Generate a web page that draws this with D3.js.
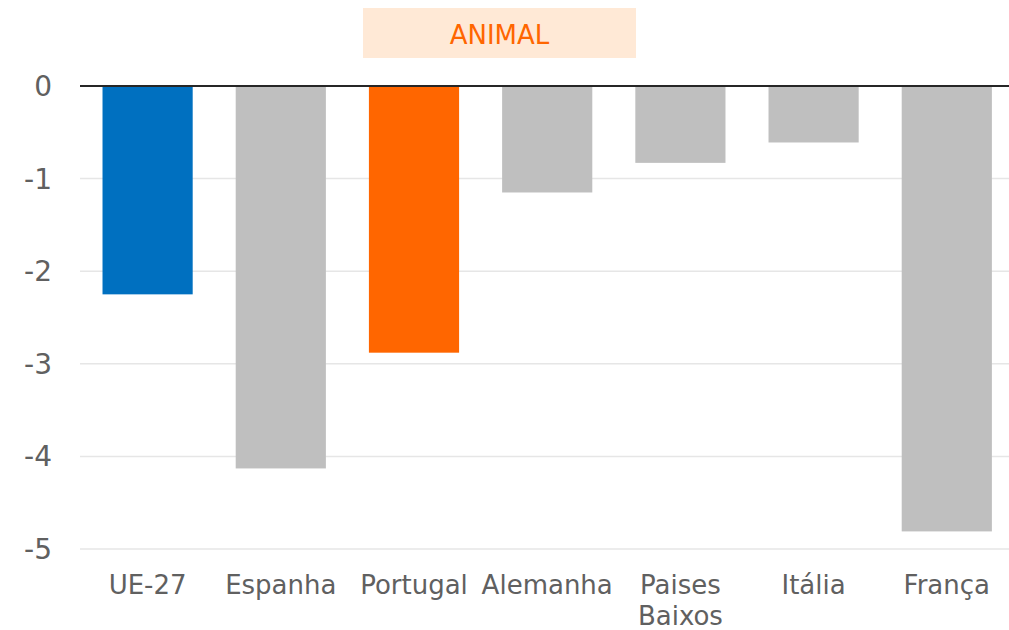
<!DOCTYPE html>
<html>
<head>
<meta charset="utf-8">
<script src="https://cdn.jsdelivr.net/npm/d3@7"></script>
<style>
  body { margin: 0; background: #fff; }
  svg { display: block; font-family: "DejaVu Sans", Verdana, sans-serif; }
</style>
</head>
<body>
<svg width="1009" height="630"></svg>
<script>
// Data
var countries = ['UE-27', 'Espanha', 'Portugal', 'Alemanha', 'Paises Baixos', 'Itália', 'França'];
var values = [-2.25, -4.13, -2.88, -1.15, -0.83, -0.61, -4.81];
var barColors = ['#0070c0', '#bfbfbf', '#ff6600', '#bfbfbf', '#bfbfbf', '#bfbfbf', '#bfbfbf'];
var yTicks = [0, -1, -2, -3, -4, -5];
var title = 'ANIMAL';

var margin = {top: 86, left: 81};
var width = 932.4;
var height = 463;

var svg = d3.select('svg');
var chart = svg.append('g')
  .attr('transform', 'translate(' + margin.left + ',' + margin.top + ')');

var x = d3.scaleBand().domain(countries).range([0, width])
  .paddingInner(0.323).paddingOuter(0.1615);
var y = d3.scaleLinear().domain([0, -5]).range([0, height]);

// Gridlines
chart.selectAll('.grid')
  .data(yTicks.filter(d => d !== 0)).enter()
  .append('line')
  .attr('x1', -1).attr('x2', width)
  .attr('y1', d => y(d)).attr('y2', d => y(d))
  .attr('stroke', '#e6e6e6')
  .attr('stroke-width', 1.5);

// Bars
chart.selectAll('.bar')
  .data(countries).enter()
  .append('rect')
  .attr('x', d => x(d))
  .attr('width', x.bandwidth())
  .attr('y', y(0))
  .attr('height', (d, i) => y(values[i]) - y(0))
  .attr('fill', (d, i) => barColors[i]);

// Zero line
chart.append('line')
  .attr('x1', -1).attr('x2', width)
  .attr('y1', y(0)).attr('y2', y(0))
  .attr('stroke', '#262626')
  .attr('stroke-width', 2);

// Y tick labels
chart.selectAll('.ytick')
  .data(yTicks).enter()
  .append('text')
  .attr('x', -29)
  .attr('y', d => y(d))
  .attr('dy', '0.36em')
  .attr('text-anchor', 'end')
  .attr('fill', '#606060')
  .attr('font-size', 28)
  .text(d => d === 0 ? '0' : String(d).replace('\u2212', '-'));

// X labels (wrap two-word label)
var xl = chart.selectAll('.xlab')
  .data(countries).enter()
  .append('text')
  .attr('text-anchor', 'middle')
  .attr('fill', '#606060')
  .attr('font-size', 26)
  .attr('transform', d => 'translate(' + (x(d) + x.bandwidth() / 2) + ',' + (height + 45) + ')');
xl.each(function(d) {
  var words = d === 'Paises Baixos' ? d.split(' ') : [d];
  d3.select(this).selectAll('tspan')
    .data(words).enter()
    .append('tspan')
    .attr('x', 0)
    .attr('dy', (w, i) => i === 0 ? 0 : 31)
    .text(w => w);
});

// Title box
svg.append('rect')
  .attr('x', 363).attr('y', 8)
  .attr('width', 273).attr('height', 50)
  .attr('fill', '#ffe9d6');
svg.append('text')
  .attr('x', 499.5).attr('y', 35)
  .attr('dy', '0.36em')
  .attr('text-anchor', 'middle')
  .attr('fill', '#ff6600')
  .attr('font-size', 26)
  .text(title);
</script>
</body>
</html>
